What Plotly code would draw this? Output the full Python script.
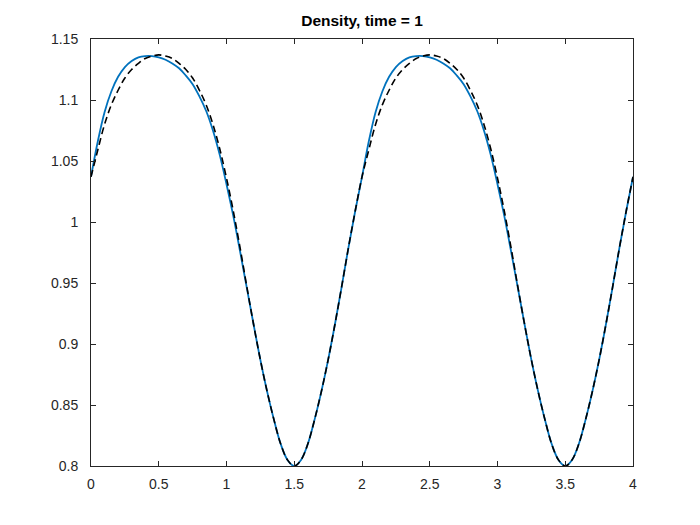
import plotly.graph_objects as go

# x positions (step 0.05 over 0..4)
x_vals = [round(i * 0.05, 2) for i in range(81)]

# Numerical solution (blue solid)
numerical = [
    1.037, 1.066, 1.090, 1.107, 1.119, 1.127, 1.132, 1.135, 1.136, 1.136,
    1.135, 1.133, 1.130, 1.126, 1.120, 1.113, 1.103, 1.091, 1.075, 1.055,
    1.031, 1.005, 0.976, 0.946, 0.916, 0.887, 0.861, 0.838, 0.818, 0.805,
    0.800, 0.805, 0.818, 0.838, 0.861, 0.887, 0.916, 0.947, 0.979, 1.009,
    1.037, 1.066, 1.090, 1.107, 1.119, 1.127, 1.132, 1.135, 1.136, 1.136,
    1.135, 1.133, 1.130, 1.126, 1.120, 1.113, 1.103, 1.091, 1.075, 1.055,
    1.031, 1.005, 0.976, 0.946, 0.916, 0.887, 0.861, 0.838, 0.818, 0.805,
    0.800, 0.805, 0.818, 0.838, 0.861, 0.887, 0.916, 0.947, 0.979, 1.009,
    1.037,
]

# Reference solution (black dashed)
reference = [
    1.037, 1.059, 1.080, 1.096, 1.108, 1.118, 1.125, 1.130, 1.134, 1.136,
    1.137, 1.136, 1.134, 1.130, 1.125, 1.118, 1.108, 1.096, 1.080, 1.060,
    1.036, 1.009, 0.979, 0.947, 0.916, 0.887, 0.861, 0.838, 0.818, 0.805,
    0.800, 0.805, 0.818, 0.838, 0.861, 0.887, 0.916, 0.947, 0.979, 1.009,
    1.037, 1.059, 1.080, 1.096, 1.108, 1.118, 1.125, 1.130, 1.134, 1.136,
    1.137, 1.136, 1.134, 1.130, 1.125, 1.118, 1.108, 1.096, 1.080, 1.060,
    1.036, 1.009, 0.979, 0.947, 0.916, 0.887, 0.861, 0.838, 0.818, 0.805,
    0.800, 0.805, 0.818, 0.838, 0.861, 0.887, 0.916, 0.947, 0.979, 1.009,
    1.037,
]

x_ticks = [0, 0.5, 1, 1.5, 2, 2.5, 3, 3.5, 4]
x_tick_text = ["0", "0.5", "1", "1.5", "2", "2.5", "3", "3.5", "4"]
y_ticks = [0.8, 0.85, 0.9, 0.95, 1.0, 1.05, 1.1, 1.15]
y_tick_text = ["0.8", "0.85", "0.9", "0.95", "1", "1.05", "1.1", "1.15"]

title_text = "Density, time = 1"

fig = go.Figure()
fig.add_trace(go.Scatter(
    x=x_vals, y=numerical, mode="lines",
    line=dict(color="#0072BD", width=1.8, shape="spline", smoothing=1.0),
    showlegend=False, hoverinfo="skip",
))
fig.add_trace(go.Scatter(
    x=x_vals, y=reference, mode="lines",
    line=dict(color="#000000", width=1.6, dash="7px,4px", shape="spline", smoothing=1.0),
    showlegend=False, hoverinfo="skip",
))

axis_common = dict(
    showgrid=False, zeroline=False,
    showline=True, linecolor="#262626", linewidth=1, mirror="allticks",
    ticks="inside", ticklen=5, tickwidth=1, tickcolor="#262626",
    tickfont=dict(family="Liberation Sans, Arial, sans-serif", size=14, color="#262626"),
)

fig.update_layout(
    width=700, height=525,
    paper_bgcolor="white", plot_bgcolor="white",
    margin=dict(l=83, r=75, t=31, b=67, autoexpand=False),
    title=dict(
        text="<b>" + title_text + "</b>",
        x=0.5, xref="paper", xanchor="center",
        y=1, yref="paper", yanchor="bottom", pad=dict(b=13),
        font=dict(family="Liberation Sans, Arial, sans-serif", size=15.5, color="#000000"),
    ),
    xaxis=dict(range=[0, 4], tickvals=x_ticks, ticktext=x_tick_text,
               ticklabelstandoff=5, **axis_common),
    yaxis=dict(range=[0.8, 1.15], tickvals=y_ticks, ticktext=y_tick_text,
               ticklabelstandoff=9, **axis_common),
)

fig.write_html("out.html")
